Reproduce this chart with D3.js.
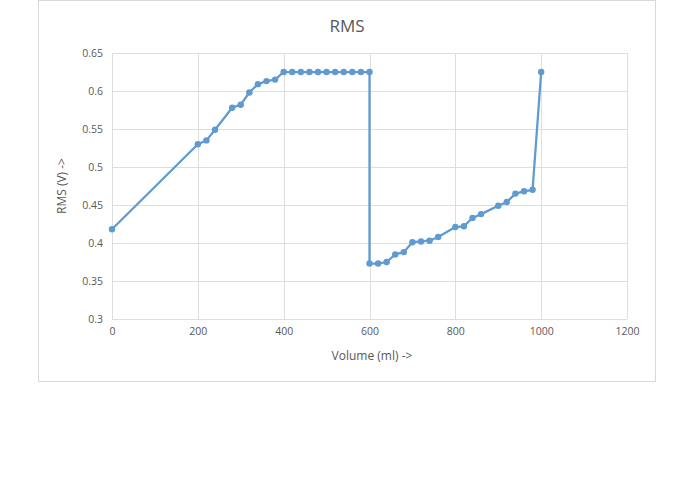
<!DOCTYPE html>
<html lang="en">
<head>
<meta charset="utf-8">
<title>RMS</title>
<script src="https://cdn.jsdelivr.net/npm/d3@7"></script>
<style>
  body { margin: 0; background: #fff; }
  text { font-family: "Open Sans", "Liberation Sans", sans-serif; fill: #595959; }
</style>
</head>
<body>
<script>
// data
var volumes = [0, 200, 220, 240, 280, 300, 320, 340, 360, 380,
  400, 420, 440, 460, 480, 500, 520, 540, 560, 580, 600,
  600, 620, 640, 660, 680, 700, 720, 740, 760, 800, 820, 840, 860,
  900, 920, 940, 960, 980, 1000];
var rmsValues = [0.418, 0.530, 0.535, 0.549, 0.578, 0.582, 0.598, 0.609, 0.613, 0.615,
  0.625, 0.625, 0.625, 0.625, 0.625, 0.625, 0.625, 0.625, 0.625, 0.625, 0.625,
  0.373, 0.373, 0.375, 0.385, 0.388, 0.401, 0.402, 0.403, 0.408, 0.421, 0.422, 0.433, 0.438,
  0.449, 0.454, 0.465, 0.468, 0.470, 0.625];
var xTicks = [0, 200, 400, 600, 800, 1000, 1200];
var yTicks = [0.3, 0.35, 0.4, 0.45, 0.5, 0.55, 0.6, 0.65];

var data = volumes.map(function(v, i) { return { x: v, y: rmsValues[i] }; });

var w = 695, h = 494;
// plot area (note: "top" is reserved on window, so use plot* names)
var plotLeft = 112, plotRight = 627, plotTop = 53, plotBottom = 319;

var svg = d3.select("body").append("svg")
  .attr("width", w)
  .attr("height", h);

// chart area border
svg.append("rect")
  .attr("x", 38.5).attr("y", 0.5)
  .attr("width", 617).attr("height", 381)
  .attr("fill", "#fff")
  .attr("stroke", "#d9d9d9");

var xScale = d3.scaleLinear().domain([0, 1200]).range([plotLeft, plotRight]);
var yScale = d3.scaleLinear().domain([0.3, 0.65]).range([plotBottom, plotTop]);

// gridlines
svg.append("g").selectAll("line")
  .data(yTicks).enter().append("line")
  .attr("x1", plotLeft).attr("x2", plotRight)
  .attr("y1", function(d) { return Math.round(yScale(d)) + 0.5; })
  .attr("y2", function(d) { return Math.round(yScale(d)) + 0.5; })
  .attr("stroke", "#dedede");

svg.append("g").selectAll("line")
  .data(xTicks).enter().append("line")
  .attr("y1", plotTop).attr("y2", plotBottom)
  .attr("x1", function(d) { return Math.round(xScale(d)) + 0.5; })
  .attr("x2", function(d) { return Math.round(xScale(d)) + 0.5; })
  .attr("stroke", "#dedede");

// axes (labels only, Excel style)
var xAxis = d3.axisBottom(xScale).tickValues(xTicks).tickSize(0).tickPadding(9)
  .tickFormat(d3.format("d"));
var yAxis = d3.axisLeft(yScale).tickValues(yTicks).tickSize(0).tickPadding(9)
  .tickFormat(function(d) { return String(+d.toFixed(2)); });

var gx = svg.append("g").attr("transform", "translate(0," + plotBottom + ")").call(xAxis);
gx.select(".domain").remove();
gx.selectAll("text").style("font-size", "10.5px").attr("fill", "#595959");

var gy = svg.append("g").attr("transform", "translate(" + plotLeft + ",0)").call(yAxis);
gy.select(".domain").remove();
gy.selectAll("text").style("font-size", "10.5px").attr("fill", "#595959");

// series
var line = d3.line()
  .x(function(d) { return xScale(d.x); })
  .y(function(d) { return yScale(d.y); });

svg.append("path")
  .datum(data)
  .attr("d", line)
  .attr("fill", "none")
  .attr("stroke", "#5f9ad0")
  .attr("stroke-width", 2.25)
  .attr("stroke-linejoin", "round");

svg.selectAll("circle")
  .data(data).enter().append("circle")
  .attr("cx", function(d) { return xScale(d.x); })
  .attr("cy", function(d) { return yScale(d.y); })
  .attr("r", 3.2)
  .attr("fill", "#5f9ad0");

// titles
svg.append("text")
  .attr("x", 347).attr("y", 32)
  .attr("text-anchor", "middle")
  .style("font-size", "17px")
  .text("RMS");

svg.append("text")
  .attr("x", 372).attr("y", 360)
  .attr("text-anchor", "middle")
  .style("font-size", "12px")
  .text("Volume (ml) ->");

svg.append("text")
  .attr("transform", "translate(66," + ((plotTop + plotBottom) / 2) + ") rotate(-90)")
  .attr("text-anchor", "middle")
  .style("font-size", "12px")
  .text("RMS (V) ->");
</script>
</body>
</html>
